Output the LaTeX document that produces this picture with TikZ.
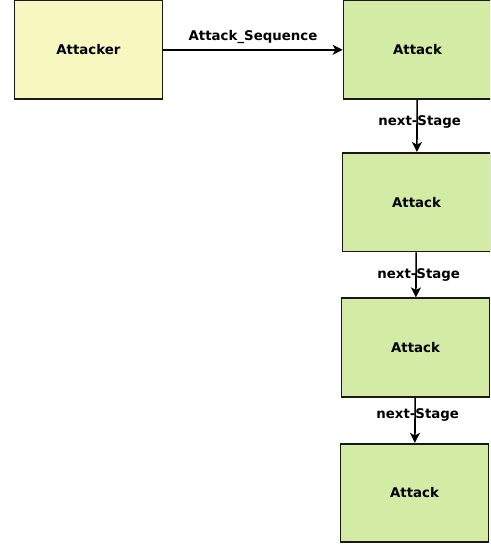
\documentclass[tikz,border=0pt]{standalone}
\usepackage{fontspec}
\setmainfont{DejaVu Sans}
\usetikzlibrary{positioning, arrows.meta}
\definecolor{attackerfill}{RGB}{247,247,192}
\definecolor{attackfill}{RGB}{211,235,164}

\begin{document}
\begin{tikzpicture}[node distance=39pt,
    box/.style={draw=black!90, line width=1.3pt, minimum width=111pt, minimum height=74pt, font=\bfseries\fontsize{10}{12}\selectfont},
    link/.style={line width=1.2pt, -{Stealth[length=7.5pt, width=7.5pt, inset=2pt]}},
    lbl/.style={font=\bfseries\fontsize{10}{12}\selectfont}]
  \clip (0,0) rectangle (367.5pt,-409.5pt);
  \useasboundingbox (0,0) rectangle (367.5pt,-409.5pt);
  \node[box, fill=attackerfill, anchor=north west] at (10.2pt,0.3pt) (attacker) {Attacker};
  \node[box, fill=attackfill, right=134.5pt of attacker]                   (stage1)   {Attack};
  \node[box, fill=attackfill, below=39pt of stage1, xshift=-0.75pt]        (stage2)   {Attack};
  \node[box, fill=attackfill, below=33.75pt of stage2, xshift=-0.75pt]     (stage3)   {Attack};
  \node[box, fill=attackfill, below=33.75pt of stage3, xshift=-0.75pt]     (stage4)   {Attack};

  \draw[link] (attacker) -- node[lbl, above=1pt] {Attack\_Sequence} (stage1);
  \draw[link] (stage1) -- node[lbl, pos=0.42, xshift=2pt] {next-Stage} (stage2);
  \draw[link] (stage2) -- node[lbl, pos=0.5, xshift=2pt] {next-Stage} (stage3);
  \draw[link] (stage3) -- node[lbl, pos=0.38, xshift=2pt] {next-Stage} (stage4);
\end{tikzpicture}
\end{document}
